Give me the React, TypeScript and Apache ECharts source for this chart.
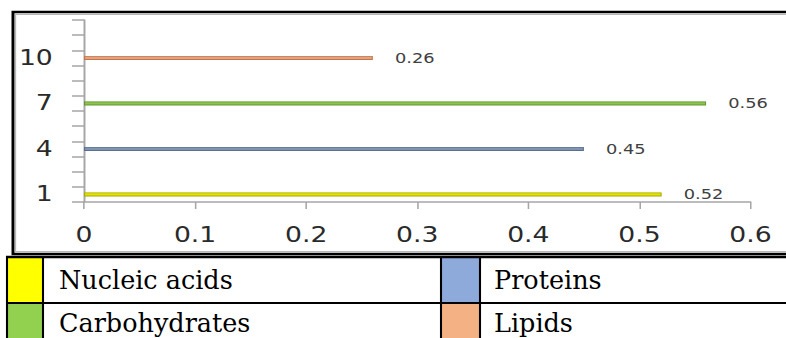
import React, { useEffect, useRef } from "react";
import * as echarts from "echarts";

// ---- data ----
const categories = ["1", "2", "3", "4", "5", "6", "7", "8", "9", "10", "11", "12"];
const seriesNames = ["Nucleic acids", "Proteins", "Carbohydrates", "Lipids"];
const seriesCategory = ["1", "4", "7", "10"];
const seriesValues = [0.52, 0.45, 0.56, 0.26];
const xMin = 0;
const xMax = 0.6;
const xStep = 0.1;
// legend table order (row by row)
const legendRows = [
  ["Nucleic acids", "Proteins"],
  ["Carbohydrates", "Lipids"],
];

// ---- styles ----
const barColors = ["#e2e200", "#7f93b2", "#8cc34e", "#e6a07a"];
const barBorders = ["#a8a800", "#5a6e8e", "#62962e", "#c07650"];
const legendColors: Record<string, string> = {
  "Nucleic acids": "#ffff00",
  Proteins: "#8eaadb",
  Carbohydrates: "#92d050",
  Lipids: "#f4b183",
};

const W = 786;
const H = 338;
const S = 1.3; // horizontal stretch of the chart picture
const X = (v: number) => v / S;

export default function App() {
  const ref = useRef<HTMLDivElement>(null);

  useEffect(() => {
    if (!ref.current) return;
    const chart = echarts.init(ref.current, null, { renderer: "svg" });

    const graphic: any[] = [];
    // chart frame
    graphic.push({
      type: "rect",
      shape: { x: X(13), y: 12, width: X(820) - X(13), height: 242 },
      style: { fill: "none", stroke: "#000", lineWidth: 2.3 },
      z: 10,
    });
    graphic.push({
      type: "rect",
      shape: { x: X(15.5), y: 14.5, width: X(820) - X(15.5), height: 237 },
      style: { fill: "none", stroke: "#b8b8b8", lineWidth: 1 },
      z: 10,
    });
    // legend table: swatches
    const rowTops = [258, 304];
    const rowHeights = [45, 40];
    const swatchCols = [
      [8, 43],
      [442, 480],
    ];
    const textX = [59, 494];
    const textY = [280, 322.5];
    legendRows.forEach((row, r) => {
      row.forEach((name, c) => {
        graphic.push({
          type: "rect",
          shape: {
            x: X(swatchCols[c][0]),
            y: rowTops[r],
            width: X(swatchCols[c][1]) - X(swatchCols[c][0]),
            height: rowHeights[r],
          },
          style: { fill: legendColors[name] },
          z: 5,
        });
        graphic.push({
          type: "text",
          x: X(textX[c]),
          y: textY[r],
          scaleX: 1 / S,
          style: {
            text: name,
            fontFamily: "DejaVu Serif",
            fontSize: 25.5,
            fill: "#000",
            align: "left",
            verticalAlign: "middle",
          },
          z: 6,
        });
      });
    });
    // legend table borders
    [257, 303].forEach((y, i) => {
      graphic.push({
        type: "line",
        shape: { x1: X(6), y1: y, x2: X(820), y2: y },
        style: { stroke: "#000", lineWidth: i === 0 ? 2.4 : 2 },
        z: 7,
      });
    });
    [7, 43, 441, 480].forEach((x) => {
      graphic.push({
        type: "line",
        shape: { x1: X(x), y1: 256, x2: X(x), y2: 340 },
        style: { stroke: "#000", lineWidth: 1.6 },
        z: 7,
      });
    });

    chart.setOption({
      animation: false,
      backgroundColor: "#ffffff",
      grid: { left: X(84), right: X(W) - X(750), top: 20, bottom: H - 202, containLabel: false },
      xAxis: {
        type: "value",
        min: xMin,
        max: xMax,
        interval: xStep,
        splitLine: { show: false },
        axisLine: { show: true, lineStyle: { color: "#a6a6a6", width: 1.5 } },
        axisTick: { show: true, length: 7, lineStyle: { color: "#a6a6a6", width: 1.2 } },
        axisLabel: {
          margin: 23,
          fontFamily: "DejaVu Sans",
          fontSize: 20.5,
          color: "#2a2a2a",
        },
      },
      yAxis: {
        type: "category",
        data: categories,
        boundaryGap: true,
        axisLine: { show: true, lineStyle: { color: "#a6a6a6", width: 1.5 } },
        axisTick: { show: true, interval: 0, length: X(12), lineStyle: { color: "#a6a6a6", width: 1.5 } },
        axisLabel: {
          interval: 2,
          margin: 24,
          fontFamily: "DejaVu Sans",
          fontSize: 20.5,
          color: "#2a2a2a",
        },
        splitLine: { show: false },
      },
      series: seriesNames.map((name, i) => ({
        name,
        type: "bar",
        barWidth: 4,
        barGap: "-100%",
        data: categories.map((c) => (c === seriesCategory[i] ? seriesValues[i] : "-")),
        itemStyle: { color: barColors[i], borderColor: barBorders[i], borderWidth: 0.8 },
        label: {
          show: true,
          position: "right",
          distance: 17,
          fontFamily: "DejaVu Sans",
          fontSize: 13.7,
          color: "#404040",
        },
      })),
      graphic,
    });

    return () => chart.dispose();
  }, []);

  return (
    <div
      style={{
        position: "fixed",
        left: 0,
        top: 0,
        width: W,
        height: H,
        overflow: "hidden",
        background: "#fff",
      }}
    >
      <div
        ref={ref}
        style={{
          width: W / S,
          height: H,
          transform: `scaleX(${S})`,
          transformOrigin: "0 0",
        }}
      />
    </div>
  );
}
